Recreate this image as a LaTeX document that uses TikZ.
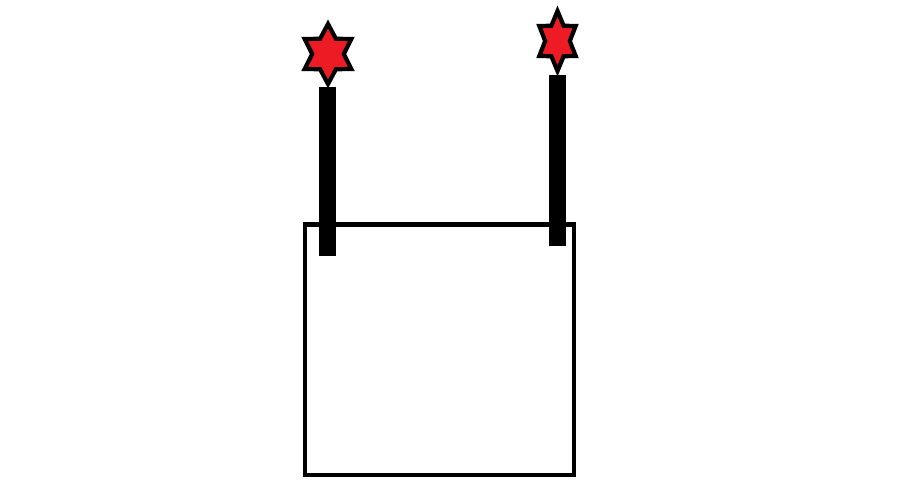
\documentclass[tikz,border=0pt]{standalone}
\usepackage{tikz}
\usetikzlibrary{arrows.meta}
\definecolor{starred}{RGB}{237,28,36}

\tikzset{
  starline/.style={draw=black, fill=starred, line width=1.2pt, line join=miter},
  post/.style={fill=black},
}

\begin{document}
\begin{tikzpicture}[line width=1.35pt]
\useasboundingbox (0,0) rectangle (9,5.02);

%box
\draw[black] (3.05,0.27) rectangle (5.74,2.775);

%left post
\fill[post] (3.19,2.46) rectangle (3.36,4.15);
%right post
\fill[post] (5.49,2.56) rectangle (5.66,4.27);

%left star
\draw[starline, shift={(3.28,4.48)}, xscale=0.9] (90:0.30)
  \foreach \a in {150,210,...,450} {-- (\a-30:0.176) -- (\a:0.30)} -- cycle;
%right star
\draw[starline, shift={(5.575,4.61)}, xscale=0.7] (90:0.30)
  \foreach \a in {150,210,...,450} {-- (\a-30:0.176) -- (\a:0.30)} -- cycle;

\end{tikzpicture}
\end{document}
